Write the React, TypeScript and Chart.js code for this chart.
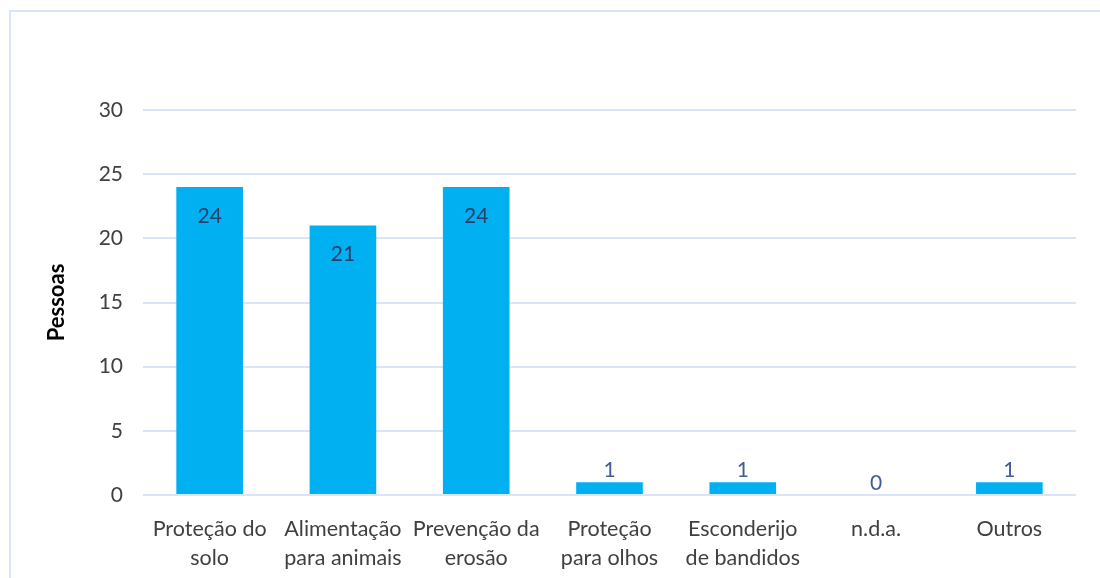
import React, { useEffect, useRef } from "react";
import { Chart, registerables } from "chart.js";

Chart.register(...registerables);

const categories: string[][] = [
  ["Proteção do", "solo"],
  ["Alimentação", "para animais"],
  ["Prevenção da", "erosão"],
  ["Proteção", "para olhos"],
  ["Esconderijo", "de bandidos"],
  ["n.d.a."],
  ["Outros"],
];
const values: number[] = [24, 21, 24, 1, 1, 0, 1];
const yTicks = { min: 0, max: 30, step: 5 };
const yTitle = "Pessoas";

const FONT = "Lato, 'Open Sans', sans-serif";

const labelPlugin = {
  id: "barLabels",
  afterDatasetsDraw(chart: any) {
    const ctx = chart.ctx;
    const meta = chart.getDatasetMeta(0);
    ctx.save();
    ctx.font = `21px ${FONT}`;
    ctx.textAlign = "center";
    ctx.textBaseline = "middle";
    meta.data.forEach((bar: any, i: number) => {
      const v = values[i];
      const inside = v >= 5;
      const y = inside ? bar.y + 29 : bar.y - 12;
      ctx.fillStyle = inside ? "#26406b" : "#3c5f94";
      ctx.fillText(String(v), bar.x, y);
    });
    ctx.restore();
  },
};

export default function App() {
  const ref = useRef<HTMLCanvasElement>(null);
  useEffect(() => {
    if (!ref.current) return;
    const chart = new Chart(ref.current, {
      type: "bar",
      data: {
        labels: categories,
        datasets: [
          {
            data: values,
            backgroundColor: "#00B0F0",
            borderWidth: 0,
            categoryPercentage: 1,
            barPercentage: 0.5,
          },
        ],
      },
      options: {
        animation: false,
        responsive: false,
        maintainAspectRatio: false,
        layout: { padding: { left: 35, right: 24, top: 110, bottom: 0 } },
        plugins: { legend: { display: false }, tooltip: { enabled: false } },
        scales: {
          x: {
            grid: { display: false },
            border: { display: false },
            ticks: {
              color: "#404040",
              font: { family: FONT, size: 21.5, lineHeight: 1.36 },
              maxRotation: 0,
              autoSkip: false,
              padding: 11,
            },
            afterFit: (s: any) => {
              s.height = 83;
            },
          },
          y: {
            min: yTicks.min,
            max: yTicks.max,
            ticks: {
              stepSize: yTicks.step,
              color: "#404040",
              font: { family: FONT, size: 21 },
              padding: 20,
            },
            grid: { color: "#d9e4f4", lineWidth: 2, drawTicks: false },
            border: { display: false },
            title: {
              display: true,
              text: yTitle,
              color: "#000000",
              font: { family: FONT, size: 22, weight: "bold" },
              padding: { top: 9, bottom: 0 },
            },
            afterFit: (s: any) => {
              s.width = 108;
            },
          },
        },
      },
      plugins: [labelPlugin],
    });
    return () => chart.destroy();
  }, []);
  return (
    <div style={{ position: "fixed", left: 0, top: 0, width: 1100, height: 578, background: "#fff" }}>
      <div
        style={{
          position: "absolute",
          left: 9,
          top: 10,
          width: 1200,
          height: 700,
          border: "2px solid #dae5f5",
          boxSizing: "border-box",
        }}
      />
      <canvas ref={ref} width={1100} height={578} style={{ position: "absolute", left: 0, top: 0 }} />
    </div>
  );
}
